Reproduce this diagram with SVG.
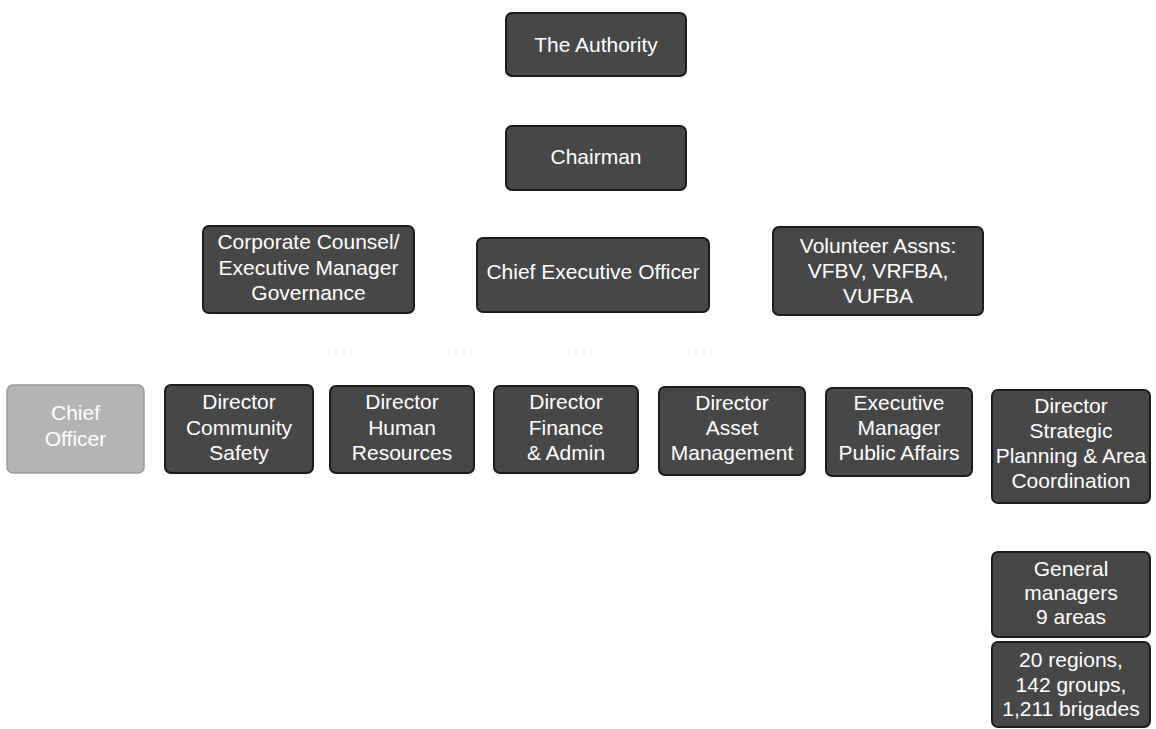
<svg xmlns="http://www.w3.org/2000/svg" width="1156" height="729" viewBox="0 0 1156 729">
<defs>
<style>
.box{fill:#474747;stroke:#1c1c1c;stroke-width:2}
.light{fill:#b4b4b4;stroke:#9a9a9a;stroke-width:1.5}
.t{font-family:"Liberation Sans",Arial,Helvetica,sans-serif;font-size:21px;fill:#ffffff;text-anchor:middle}
.conn{fill:none;stroke:#d0d0d0;stroke-width:1.2;stroke-dasharray:1.5 6}
</style>
</defs>
<rect width="1156" height="729" fill="#ffffff"/>
<g id="connectors">
<path class="conn" d="M253 352 H735"/>
</g>
<g id="authority">
<rect class="box" x="506" y="13" width="180" height="63" rx="6"/>
<text class="t" x="596" y="52">The Authority</text>
</g>
<g id="chairman">
<rect class="box" x="506" y="126" width="180" height="64" rx="6"/>
<text class="t" x="596" y="164">Chairman</text>
</g>
<g id="corporate-counsel">
<rect class="box" x="203" y="226" width="211" height="87" rx="6"/>
<text class="t" x="308.5" y="249">Corporate Counsel/</text>
<text class="t" x="308.5" y="274.5">Executive Manager</text>
<text class="t" x="308.5" y="300">Governance</text>
</g>
<g id="ceo">
<rect class="box" x="477" y="238" width="232" height="74" rx="6"/>
<text class="t" x="593" y="279">Chief Executive Officer</text>
</g>
<g id="volunteer">
<rect class="box" x="773" y="227" width="210" height="88" rx="6"/>
<text class="t" x="878" y="253">Volunteer Assns:</text>
<text class="t" x="878" y="278">VFBV, VRFBA,</text>
<text class="t" x="878" y="303">VUFBA</text>
</g>
<g id="chief-officer">
<rect class="light" x="7" y="385" width="137" height="88" rx="6"/>
<text class="t" x="75.5" y="420">Chief</text>
<text class="t" x="75.5" y="446">Officer</text>
</g>
<g id="community-safety">
<rect class="box" x="165" y="385" width="148" height="88" rx="6"/>
<text class="t" x="239" y="409">Director</text>
<text class="t" x="239" y="435">Community</text>
<text class="t" x="239" y="460">Safety</text>
</g>
<g id="human-resources">
<rect class="box" x="330" y="386" width="144" height="87" rx="6"/>
<text class="t" x="402" y="409">Director</text>
<text class="t" x="402" y="435">Human</text>
<text class="t" x="402" y="460">Resources</text>
</g>
<g id="finance">
<rect class="box" x="494" y="386" width="144" height="87" rx="6"/>
<text class="t" x="566" y="409">Director</text>
<text class="t" x="566" y="435">Finance</text>
<text class="t" x="566" y="460">&amp; Admin</text>
</g>
<g id="asset">
<rect class="box" x="659" y="387" width="146" height="88" rx="6"/>
<text class="t" x="732" y="410">Director</text>
<text class="t" x="732" y="435">Asset</text>
<text class="t" x="732" y="460">Management</text>
</g>
<g id="public-affairs">
<rect class="box" x="826" y="388" width="146" height="88" rx="6"/>
<text class="t" x="899" y="410">Executive</text>
<text class="t" x="899" y="435">Manager</text>
<text class="t" x="899" y="460">Public Affairs</text>
</g>
<g id="strategic">
<rect class="box" x="992" y="390" width="158" height="113" rx="6"/>
<text class="t" x="1071" y="413">Director</text>
<text class="t" x="1071" y="438">Strategic</text>
<text class="t" x="1071" y="463">Planning &amp; Area</text>
<text class="t" x="1071" y="488">Coordination</text>
</g>
<g id="general-managers">
<rect class="box" x="992" y="552" width="158" height="85" rx="6"/>
<text class="t" x="1071" y="576">General</text>
<text class="t" x="1071" y="600">managers</text>
<text class="t" x="1071" y="624">9 areas</text>
</g>
<g id="regions">
<rect class="box" x="992" y="642" width="158" height="85" rx="6"/>
<text class="t" x="1071" y="667">20 regions,</text>
<text class="t" x="1071" y="692">142 groups,</text>
<text class="t" x="1071" y="716">1,211 brigades</text>
</g>
</svg>
